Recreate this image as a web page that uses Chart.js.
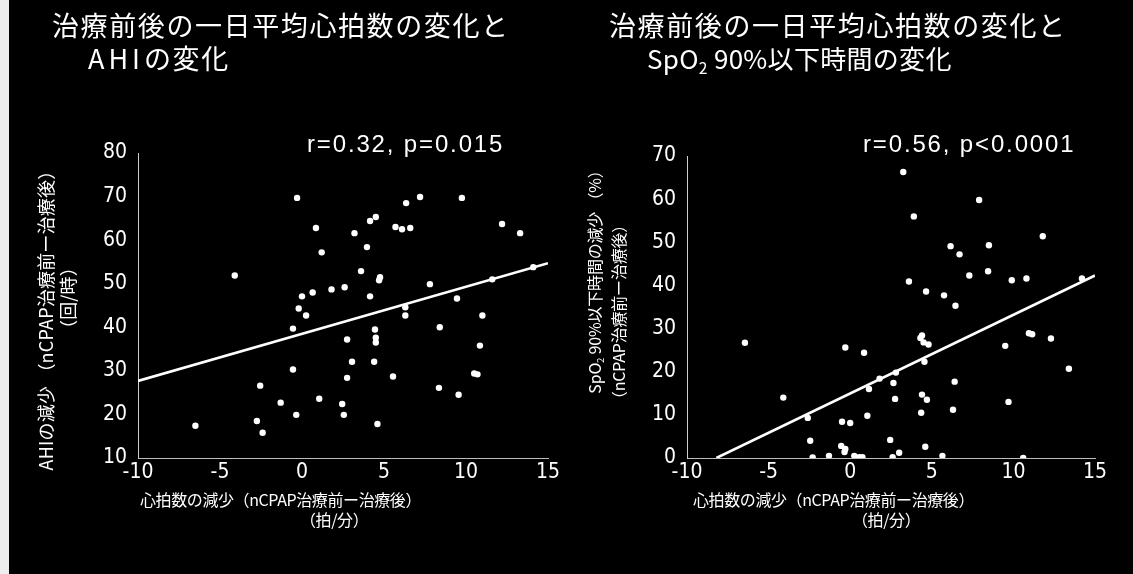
<!DOCTYPE html>
<html lang="ja">
<head>
<meta charset="utf-8">
<script src="https://cdn.jsdelivr.net/npm/chart.js@4.4.1/dist/chart.umd.min.js"></script>
<style>
html,body{margin:0;padding:0;background:#000;}
body{width:1133px;height:574px;position:relative;overflow:hidden;font-family:"Noto Sans CJK JP",sans-serif;color:#fff;}
.edge{position:absolute;left:0;top:0;width:9px;height:574px;background:#ededed;}
.panel{position:absolute;top:0;height:574px;}
.t{position:absolute;white-space:nowrap;color:#fff;}
.title{font-size:27px;line-height:33px;letter-spacing:1.6px;}
.title2{font-size:26px;line-height:33px;letter-spacing:0.3px;}
.stat{font-family:"Liberation Sans",Arial,sans-serif;font-size:24px;line-height:24px;letter-spacing:1.85px;}
.xt{font-size:16px;line-height:20px;letter-spacing:-0.4px;}
.yt{font-size:16px;line-height:20px;letter-spacing:-0.2px;transform:translate(-50%,-50%) rotate(-90deg);}
.yt.big{font-size:18px;letter-spacing:0.2px;}
sub{font-size:60%;vertical-align:-0.35em;line-height:0;}
</style>
</head>
<body>
<div class="edge"></div>
<canvas id="left" class="panel" style="left:0" width="566" height="574"></canvas>
<canvas id="right" class="panel" style="left:566px" width="567" height="574"></canvas>

<div class="t title" style="left:52px;top:8px">治療前後の一日平均心拍数の変化と</div>
<div class="t title" style="left:88px;top:41px"><span style="letter-spacing:4px">AHI</span>の変化</div>
<div class="t title" style="left:609px;top:8px">治療前後の一日平均心拍数の変化と</div>
<div class="t title2" style="left:647px;top:41px">SpO<sub>2</sub> 90%以下時間の変化</div>

<div class="t stat" style="left:307px;top:132px">r=0.32, p=0.015</div>
<div class="t stat" style="left:863px;top:132px">r=0.56, p&lt;0.0001</div>

<div class="t xt" style="left:140px;top:489px">心拍数の減少（nCPAP治療前ー治療後）</div>
<div class="t xt" style="left:300px;top:509px">（拍/分）</div>
<div class="t xt" style="left:693px;top:489px">心拍数の減少（nCPAP治療前ー治療後）</div>
<div class="t xt" style="left:852px;top:509px">（拍/分）</div>

<div class="t yt big" style="left:45px;top:316px">AHIの減少 （nCPAP治療前ー治療後）</div>
<div class="t yt big" style="left:67px;top:298px">（回/時）</div>
<div class="t yt" style="left:594px;top:278px">SpO<sub>2</sub> 90%以下時間の減少 （%）</div>
<div class="t yt" style="left:618px;top:312px">（nCPAP治療前ー治療後）</div>

<script>
// Shared x axis: fall in mean daily heart rate (beats/min)
const hrTicks = [-10, -5, 0, 5, 10, 15];

// Left panel: change in AHI
const ahiHr = [-6.5, -4.1, -2.75, -2.55, -2.4, -1.3, -0.55, -0.55, -0.35, -0.3, -0.2, 0.0, 0.25, 0.65, 0.85,
  1.05, 1.2, 1.8, 2.45, 2.55, 2.6, 2.75, 2.75, 3.05, 3.2, 3.6, 3.96, 4.15, 4.15, 4.4, 4.45, 4.5, 4.5, 4.5,
  4.6, 4.7, 4.76, 5.55, 5.7, 6.1, 6.3, 6.3, 6.35, 6.6, 7.2, 7.8, 8.35, 8.4, 9.45, 9.55, 9.75, 10.5, 10.7,
  10.85, 11.0, 11.6, 12.2, 13.3, 14.1];
const ahiDrop = [17.4, 51.9, 18.5, 26.6, 15.8, 22.7, 39.7, 30.3, 19.9, 69.7, 44.3, 47.1, 42.7, 48.0, 62.8,
  23.6, 57.2, 48.7, 22.4, 19.9, 49.2, 37.2, 28.4, 32.1, 61.6, 52.9, 58.4, 64.4, 47.1, 32.1, 39.5, 65.3, 37.6, 36.5,
  17.8, 50.8, 51.5, 28.7, 63.0, 62.5, 44.6, 42.7, 68.5, 62.8, 69.9, 49.9, 26.1, 40.0, 46.6, 24.5, 69.7, 29.4, 29.2,
  35.8, 42.7, 51.0, 63.7, 61.6, 53.8];
const ahiTicks = [10, 20, 30, 40, 50, 60, 70, 80];
const ahiFitX = [-10, 15];
const ahiFitY = [27.7, 54.7];

// Right panel: change in time spent at SpO2 <= 90 %
const spoHr = [-6.45, -4.1, -2.6, -2.45, -2.3, -1.3, -0.55, -0.5, -0.35, -0.3, -0.3, 0.0, 0.25, 0.55, 0.75,
  0.85, 1.05, 1.15, 1.8, 2.45, 2.6, 2.65, 2.75, 2.8, 3.0, 3.25, 3.6, 3.9, 4.3, 4.35, 4.4, 4.4, 4.5, 4.55, 4.6,
  4.65, 4.7, 4.8, 5.65, 5.75, 6.15, 6.3, 6.4, 6.45, 6.7, 7.3, 7.9, 8.45, 8.5, 9.5, 9.7, 9.9, 10.6, 10.8,
  10.95, 11.15, 11.8, 12.3, 13.4, 14.2];
const spoDrop = [26.7, 14.0, 9.3, 4.0, 0.1, 0.5, 2.8, 8.4, 1.4, 25.6, 2.1, 8.1, 0.5, 0.2, 0.2,
  24.4, 9.8, 16.0, 18.4, 4.2, 0.2, 17.4, 13.7, 19.8, 1.2, 66.3, 40.9, 56.0, 27.8, 10.5, 28.4, 14.7, 26.8, 22.3, 2.6,
  38.6, 13.5, 26.3, 0.5, 37.7, 49.1, 11.2, 17.7, 35.3, 47.2, 42.3, 59.8, 43.3, 49.3, 26.0, 13.0, 41.2, 0.0, 41.6,
  28.9, 28.7, 51.4, 27.7, 20.7, 41.6];
const spoTicks = [0, 10, 20, 30, 40, 50, 60, 70];
const spoFitX = [-8.2, 15];
const spoFitY = [0, 42.3];

const tickFont = { family: "'Liberation Sans Narrow','DejaVu Sans Condensed','Liberation Sans',sans-serif", size: 21 };

function pairs(xs, ys) { return xs.map((x, i) => ({ x, y: ys[i] })); }
function fixedTicks(values) { return scale => { scale.ticks = values.map(v => ({ value: v })); }; }

function makeChart(id, xs, ys, fitX, fitY, yTicks, yAxisWidth, pad) {
  return new Chart(document.getElementById(id), {
    data: {
      datasets: [
        {
          type: 'scatter',
          data: pairs(xs, ys),
          pointRadius: 3.2,
          pointHoverRadius: 3.2,
          pointBackgroundColor: '#ffffff',
          pointBorderWidth: 0
        },
        {
          type: 'line',
          data: pairs(fitX, fitY),
          borderColor: '#ffffff',
          borderWidth: 2.6,
          pointRadius: 0,
          fill: false
        }
      ]
    },
    options: {
      responsive: false,
      animation: false,
      devicePixelRatio: 1,
      layout: { padding: pad },
      plugins: { legend: { display: false }, tooltip: { enabled: false } },
      scales: {
        x: {
          type: 'linear',
          min: hrTicks[0],
          max: hrTicks[hrTicks.length - 1],
          afterBuildTicks: fixedTicks(hrTicks),
          afterFit: s => { s.height = 40; },
          grid: { display: false, drawTicks: false },
          border: { display: true, color: '#bdbdbd', width: 1, dash: [7, 4] },
          ticks: { color: '#ffffff', font: tickFont, padding: 2, maxRotation: 0 }
        },
        y: {
          type: 'linear',
          min: yTicks[0],
          max: yTicks[yTicks.length - 1],
          afterBuildTicks: fixedTicks(yTicks),
          afterFit: s => { s.width = yAxisWidth; },
          grid: { display: false, drawTicks: false },
          border: { display: true, color: '#cfcfcf', width: 1, dash: [2, 1] },
          ticks: { color: '#ffffff', font: tickFont, padding: 11 }
        }
      }
    }
  });
}

makeChart('left', ahiHr, ahiDrop, ahiFitX, ahiFitY, ahiTicks, 138, { left: 0, top: 153, right: 18, bottom: 76 });
makeChart('right', spoHr, spoDrop, spoFitX, spoFitY, spoTicks, 121, { left: 0, top: 156, right: 38, bottom: 76 });
</script>
</body>
</html>
